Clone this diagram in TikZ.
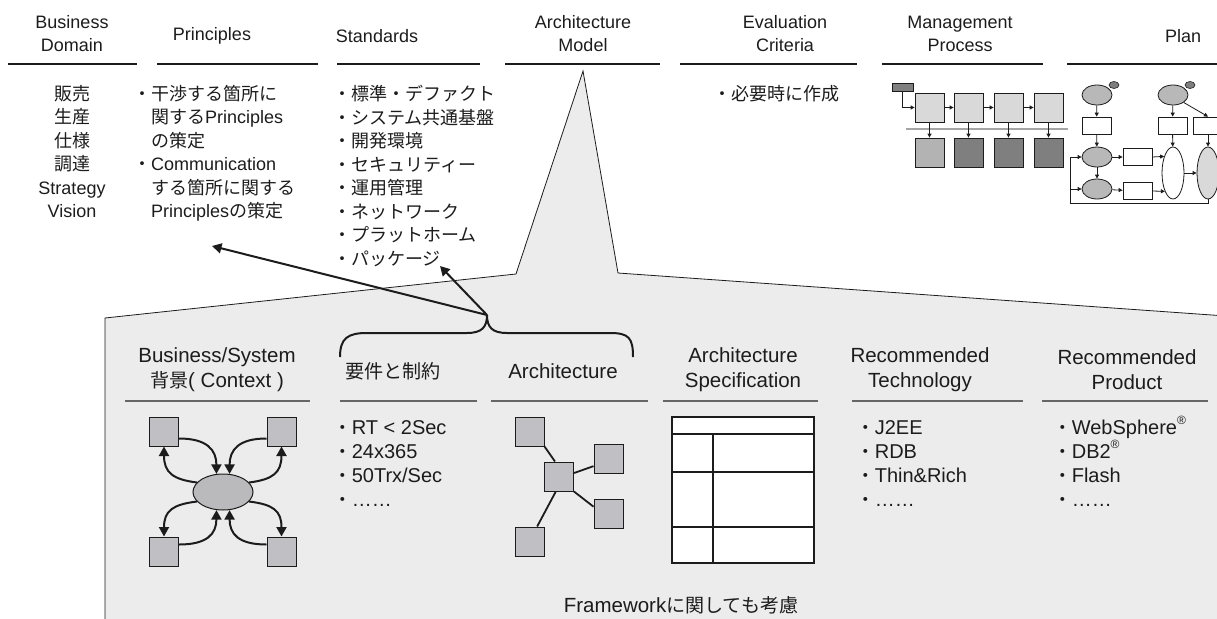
\documentclass[tikz,border=0pt]{standalone}
\usepackage{fontspec}
\setmainfont{Liberation Sans}
\newfontfamily\jpfont{Noto Sans CJK JP}
\newfontfamily\jpfontS[Scale=0.93]{Noto Sans CJK JP}
\newcommand\jp[1]{{\jpfont #1}}
\newcommand\jq[1]{{\jpfontS #1}}
\newcommand\regmark{\smash{\raisebox{0.5em}{\fontsize{12}{12}\selectfont ®}}}
\usetikzlibrary{arrows.meta,shapes.geometric,calc}

\definecolor{ink}{HTML}{1C1C1C}
\definecolor{panel}{HTML}{ECECEC}
\definecolor{boxgray}{HTML}{C0C0C4}
\definecolor{lightbox}{HTML}{D9D9D9}
\definecolor{midbox}{HTML}{B3B3B3}
\definecolor{darkbox}{HTML}{7F7F7F}
\definecolor{rulegray}{HTML}{666666}

\tikzset{
  hdr/.style={font=\fontsize{18}{23}\selectfont, align=center, text=ink, inner sep=0pt},
  toprule/.style={draw=ink, line width=1pt},
  lst/.style={font=\fontsize{18}{23.5}\selectfont, align=left, anchor=north west, text=ink, inner sep=0pt},
  clst/.style={font=\fontsize{18}{23.5}\selectfont, align=center, anchor=north, text=ink, inner sep=0pt},
  sub/.style={font=\fontsize{20.5}{25}\selectfont, align=center, text=ink, inner sep=0pt},
  llst/.style={font=\fontsize{20}{24}\selectfont, align=left, anchor=north west, text=ink, inner sep=0pt},
  subrule/.style={draw=rulegray, line width=1.4pt},
  arr/.style={-{Triangle[length=9.5pt,width=10pt]}, line width=2pt, draw=ink},
  sarr/.style={-{Triangle[length=4pt,width=4pt]}, line width=0.8pt, draw=ink},
  gsq/.style={draw=ink, line width=1pt, fill=boxgray, minimum width=29pt, minimum height=29pt, inner sep=0pt},
  mbox/.style={draw=ink, line width=0.8pt, minimum width=29pt, minimum height=29pt, inner sep=0pt},
  pbox/.style={draw=ink, line width=0.8pt, fill=white, minimum width=29pt, minimum height=17pt, inner sep=0pt},
  pell/.style={ellipse, draw=ink, line width=0.8pt, fill=lightbox!85!black, minimum width=30pt, minimum height=20pt, inner sep=0pt},
  dot/.style={ellipse, draw=ink, line width=0.6pt, fill=darkbox, minimum width=10pt, minimum height=7pt, inner sep=0pt},
}

\begin{document}
\begin{tikzpicture}[x=1pt, y=-1pt]
\useasboundingbox (0,0) rectangle (1217,618);
\clip (0,0) rectangle (1217,618);

% ---------- column headings ----------
\node[hdr] (hBD) at (72,33.5)   {Business\\Domain};
\node[hdr] (hPr) at (212,36)    {Principles};
\node[hdr] (hSt) at (377,36)    {Standards};
\node[hdr] (hAM) at (583,33.5)  {Architecture\\Model};
\node[hdr] (hEC) at (785,33.5)  {Evaluation\\Criteria};
\node[hdr] (hMP) at (960,33.5)  {Management\\Process};
\node[hdr] (hPl) at (1183,36)   {Plan};

\foreach \a/\b in {8/137, 157/318, 337/480, 505/660, 680/857, 882/1043, 1067/1217}
  \draw[toprule] (\a,64) -- (\b,64);

% ---------- column contents ----------
\node[clst] (lBD) at (72,85) {\jp{販売}\\\jp{生産}\\\jp{仕様}\\\jp{調達}\\Strategy\\Vision};
\node[lst] (lPr) at (133,85) {\jp{・干渉する箇所に}\\
  \phantom{\jp{・}}\jp{関する}Principles\\
  \phantom{\jp{・}}\jp{の策定}\\
  \jp{・}Communication\\
  \phantom{\jp{・}}\jp{する箇所に関する}\\
  \phantom{\jp{・}}Principles\jp{の策定}};
\node[lst] (lSt) at (333,85) {\jp{・標準・デファクト}\\\jp{・システム共通基盤}\\\jp{・開発環境}\\
  \jp{・セキュリティー}\\\jp{・運用管理}\\\jp{・ネットワーク}\\\jp{・プラットホーム}\\\jp{・パッケージ}};
\node[lst] (lEC) at (713,85) {\jp{・必要時に作成}};

% ---------- management process sketch ----------
\node[mbox, fill=darkbox, minimum width=21pt, minimum height=8pt] (m0) at (902.5,87) {};
\foreach \i/\x in {1/929.5, 2/968.5, 3/1008.5, 4/1048.5}{
  \node[mbox, fill=lightbox] (mu\i) at (\x,107.5) {};
}
\draw[draw=darkbox!70, line width=1.2pt] (906,129) -- (1068,129);
\node[mbox, fill=midbox]  (ml1) at (929.5,152.5) {};
\node[mbox, fill=darkbox] (ml2) at (968.5,152.5) {};
\node[mbox, fill=darkbox] (ml3) at (1008.5,152.5) {};
\node[mbox, fill=darkbox] (ml4) at (1048.5,152.5) {};
\draw[sarr] (m0.south) |- (mu1.west);
\foreach \i/\j in {1/2, 2/3, 3/4} \draw[sarr] (mu\i) -- (mu\j);
\foreach \i in {1,...,4} \draw[sarr] (mu\i) -- (ml\i);

% ---------- plan sketch ----------
\node[pell] (pe1) at (1097,95) {};
\node[dot]  (pd1) at (1114,85) {};
\node[pell] (pe2) at (1173,95) {};
\node[dot]  (pd2) at (1190,85) {};
\node[pbox] (pr1) at (1096.5,125.5) {};
\node[pbox] (pr2) at (1172.5,125.5) {};
\node[pbox] (pr3) at (1208,125.5) {};
\node[pell] (pe3) at (1097,157) {};
\node[pell] (pe4) at (1097,189) {};
\node[pbox] (pr4) at (1137.5,157) {};
\node[pbox] (pr5) at (1137.5,191) {};
\node[pell, fill=white, minimum width=22pt, minimum height=52pt] (pt1) at (1173,173) {};
\node[pell, fill=lightbox, minimum width=22pt, minimum height=52pt] (pt2) at (1208,173) {};
\coordinate (pfb) at (1070,203);
\draw[sarr] (pe1) -- (pr1);
\draw[sarr] (pr1) -- (pe3);
\draw[sarr] (pe3) -- (pe4);
\draw[sarr] (pe3) -- (pr4);
\draw[sarr] (pe4) -- (pr5);
\draw[sarr] (pr4.east) -- (pt1.118.5);
\draw[sarr] (pr5.east) -- (pt1.246);
\draw[sarr] (pe2) -- (pr2);
\draw[sarr] (pr2) -- (pt1);
\draw[sarr] (pe2.-35) -- (pr3.north);
\draw[sarr] (pr3) -- (pt2);
\draw[sarr] (pt1) -- (pt2);
\draw[sarr] (pt2.south) |- (pfb) |- (pe3.west);
\draw[sarr] (pfb |- pe4.west) -- (pe4.west);

% ---------- callout panel ----------
\draw[draw=ink, line width=0.8pt, fill=panel]
  (105,640) -- (105,318) -- (516,274) -- (583,71) -- (618,273) -- (1240,317) -- (1240,640);

% ---------- panel headings ----------
\node[sub] (cBS) at (217,370) {Business/System\\\jq{背景}( Context )};
\node[sub] (cRq) at (393,371) {\jq{要件と制約}};
\node[sub] (cAr) at (563,371) {Architecture};
\node[sub] (cAS) at (743,370) {Architecture\\Specification};
\node[sub] (cRT) at (920,370) {Recommended\\Technology};
\node[sub] (cRP) at (1127,370) {Recommended\\Product};

\foreach \a/\b in {125/310, 340/477, 491/648, 663/818, 852/1023, 1042/1208}
  \draw[subrule] (\a,401) -- (\b,401);

% brace over the two middle columns, with its pointers
\coordinate (btip) at (487,315);
\draw[line width=2pt, draw=ink]
  (340,357) .. controls (340,338) and (348,333) .. (367,333) -- (467,333)
  .. controls (482,333) and (487,327) .. (btip)
  .. controls (487,327) and (492,333) .. (507,333) -- (610,333)
  .. controls (629,333) and (633,338) .. (633,357);
\coordinate (toPr) at (212,246);
\coordinate (toSt) at (440,266);
\draw[arr] (btip) -- (toPr);
\draw[arr] (btip) -- (toSt);

% ---------- context sketch ----------
\node[gsq] (b1) at (164,431.5) {};
\node[gsq] (b2) at (281.5,431.5) {};
\node[gsq] (b3) at (164,551.5) {};
\node[gsq] (b4) at (281.5,551.5) {};
\node[ellipse, draw=ink, line width=1pt, fill=boxgray!90!gray, minimum width=60pt, minimum height=36pt, inner sep=0pt] (bc) at (223,492) {};
\draw[arr] (b1.-25)  .. controls +(28,0)  and +(0,-24) .. (bc.110);
\draw[arr] (bc.160)  .. controls +(-24,-3) and +(0,26) .. (b1.south);
\draw[arr] (b2.205)  .. controls +(-28,0) and +(0,-24) .. (bc.70);
\draw[arr] (bc.20)   .. controls +(24,-3) and +(0,26) .. (b2.south);
\draw[arr] (bc.200)  .. controls +(-24,3) and +(0,-26) .. (b3.north);
\draw[arr] (b3.25)   .. controls +(28,0)  and +(0,24) .. (bc.250);
\draw[arr] (bc.-20)  .. controls +(24,3)  and +(0,-26) .. (b4.north);
\draw[arr] (b4.155)  .. controls +(-28,0) and +(0,24) .. (bc.290);

% ---------- requirements ----------
\node[llst] (lRq) at (333,420) {\jq{・}RT < 2Sec\\\jq{・}24x365\\\jq{・}50Trx/Sec\\\jq{・}……};

% ---------- architecture sketch ----------
\node[gsq] (a1) at (529.5,431.5) {};
\node[gsq] (a0) at (559,476.5) {};
\node[gsq] (a2) at (608.5,458.5) {};
\node[gsq] (a3) at (608.5,514) {};
\node[gsq] (a4) at (529.5,541.5) {};
\draw[line width=1.8pt, draw=ink] (a1.south east) -- ([xshift=-4pt]a0.north);
\draw[line width=1.8pt, draw=ink] (a0.13) -- (a2.207);
\draw[line width=1.8pt, draw=ink] (a0.south east) -- (a3.154);
\draw[line width=1.8pt, draw=ink] (a0.-102) -- (a4.63);

% ---------- specification form ----------
\draw[line width=1.8pt, draw=ink, fill=white] (672,417) rectangle (814,563);
\draw[line width=1.6pt, draw=ink] (672,434) -- (814,434);
\draw[line width=1.6pt, draw=ink] (672,472) -- (814,472);
\draw[line width=1.6pt, draw=ink] (672,527) -- (814,527);
\draw[line width=1.6pt, draw=ink] (713,434) -- (713,563);

% ---------- technology and product lists ----------
\node[llst] (lRT) at (856,420) {\jq{・}J2EE\\\jq{・}RDB\\\jq{・}Thin\&Rich\\\jq{・}……};
\node[llst] (lRP) at (1053,420) {\jq{・}WebSphere\regmark\\\jq{・}DB2\regmark\\\jq{・}Flash\\\jq{・}……};

% ---------- footnote ----------
\node[sub] (fw) at (681,605) {Framework\jq{に関しても考慮}};
\end{tikzpicture}
\end{document}
